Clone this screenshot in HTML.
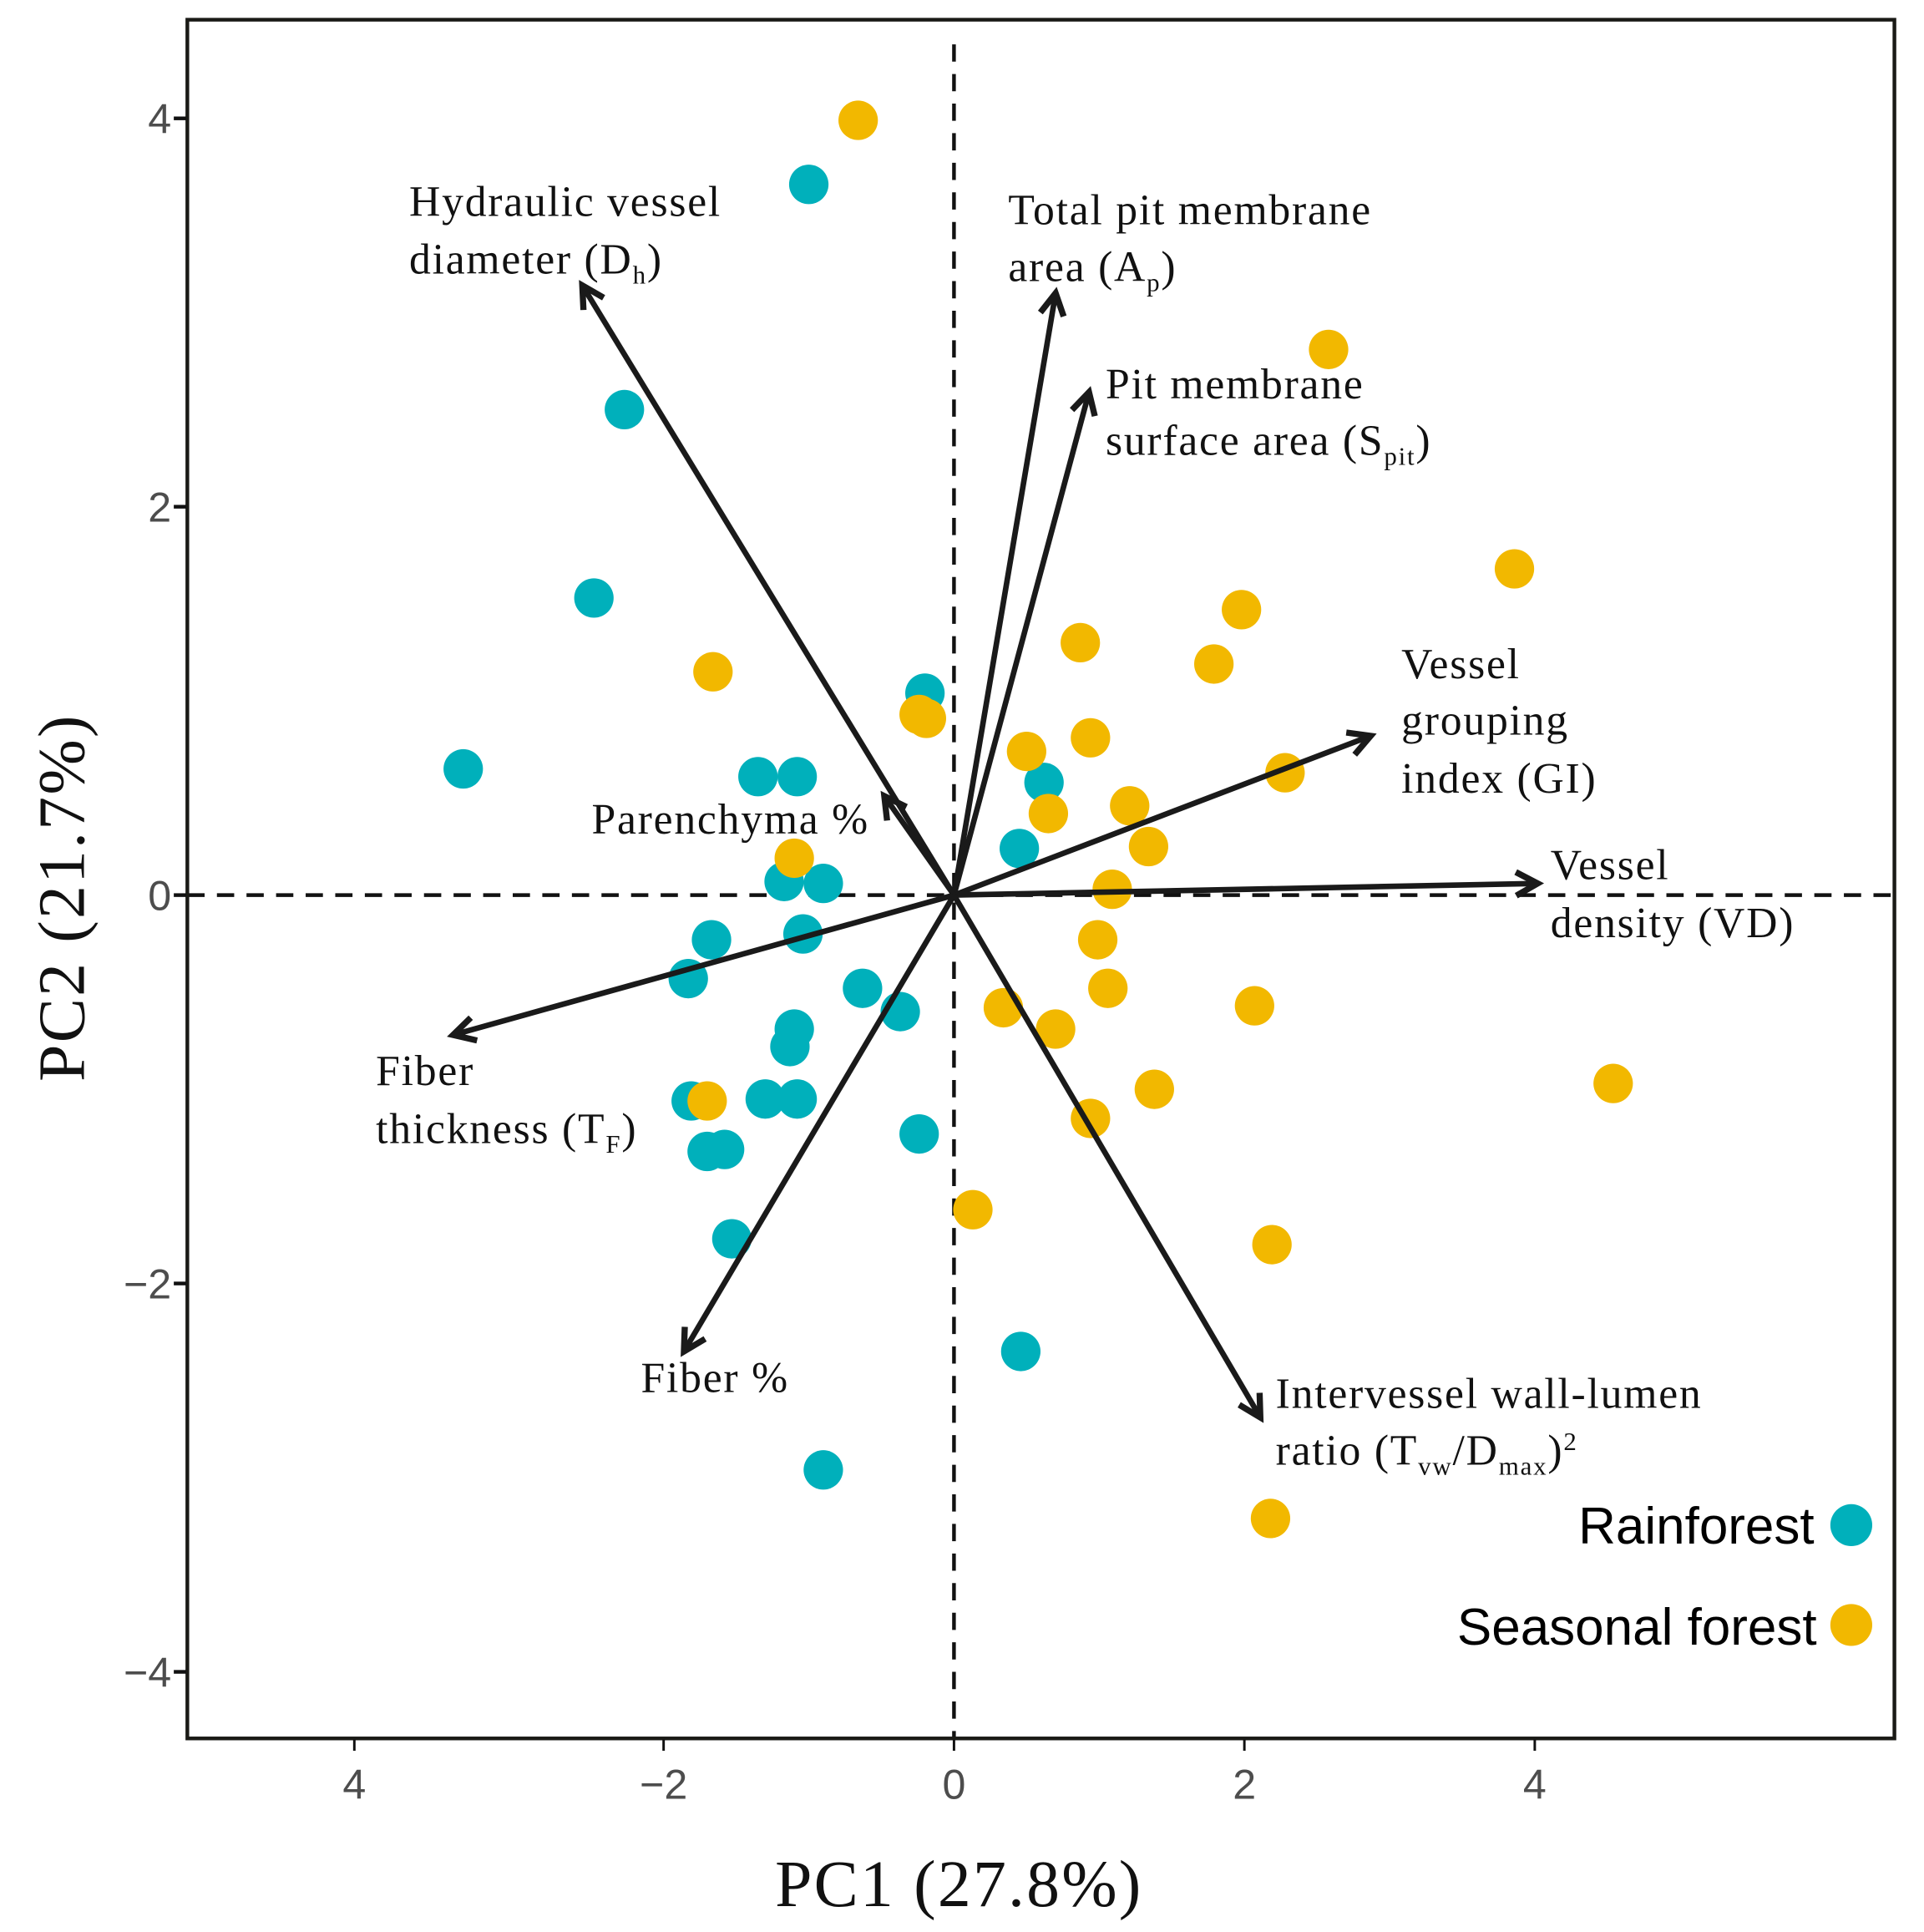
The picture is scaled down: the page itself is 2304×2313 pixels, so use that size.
<!DOCTYPE html>
<html><head><meta charset="utf-8"><style>
html,body{margin:0;padding:0;background:#fff;}
svg{display:block;}
.ser{font-family:"Liberation Serif",serif;fill:#111;}
.tick{font-family:"Liberation Sans",sans-serif;fill:#4d4d4d;font-size:34px;}
</style></head><body>
<svg id="chart" width="2304" height="2313" viewBox="0 0 1561 1567" preserveAspectRatio="none" xmlns="http://www.w3.org/2000/svg">
<rect x="0" y="0" width="1561" height="1567" fill="#fff"/>
<g id="marks"></g>
<g id="arrows"></g>
<g id="labels" class="ser" font-size="35" letter-spacing="1.2">
<text x="332" y="175">Hydraulic vessel</text>
<text x="332" y="222">diameter (D<tspan font-size="21" dy="8">h</tspan><tspan dy="-8">)</tspan></text>
<text x="818" y="182">Total pit membrane</text>
<text x="818" y="228">area (A<tspan font-size="21" dy="8">p</tspan><tspan dy="-8">)</tspan></text>
<text x="897" y="323">Pit membrane</text>
<text x="897" y="369">surface area (S<tspan font-size="21" dy="8">pit</tspan><tspan dy="-8">)</tspan></text>
<text x="1137" y="550">Vessel</text>
<text x="1137" y="596">grouping</text>
<text x="1137" y="643">index (GI)</text>
<text x="1258" y="713">Vessel</text>
<text x="1258" y="760">density (VD)</text>
<text x="480" y="676">Parenchyma %</text>
<text x="305" y="880">Fiber</text>
<text x="305" y="927">thickness (T<tspan font-size="21" dy="8">F</tspan><tspan dy="-8">)</tspan></text>
<text x="520" y="1129">Fiber %</text>
<text x="1035" y="1142">Intervessel wall-lumen</text>
<text x="1035" y="1188">ratio (T<tspan font-size="21" dy="8">vw</tspan><tspan dy="-8">/D</tspan><tspan font-size="21" dy="8">max</tspan><tspan dy="-8">)</tspan><tspan font-size="21" dy="-12">2</tspan></text>
</g>
<g id="legend" font-family="Liberation Sans, sans-serif" font-size="42" fill="#000">
<text x="1472" y="1252" text-anchor="end">Rainforest</text>
<circle cx="1502" cy="1237" r="17" fill="#00B0BB"/>
<text x="1474" y="1334" text-anchor="end">Seasonal forest</text>
<circle cx="1502" cy="1318" r="17" fill="#F2B800"/>
</g>
<text class="ser" x="778" y="1546" font-size="54" letter-spacing="1.5" text-anchor="middle">PC1 (27.8%)</text>
<text class="ser" x="0" y="0" font-size="54" letter-spacing="1.5" text-anchor="middle" transform="translate(68,728) rotate(-90)">PC2 (21.7%)</text>
<rect x="152" y="16" width="1385" height="1394" fill="none" stroke="#1a1a16" stroke-width="3"/>
<g id="axes"></g>
</svg>
<script>
const xTickVals=[-4.13,-2,0,2,4];
const xTickLabels=["4","\u22122","0","2","4"];
const yTickVals=[4,2,0,-2,-4];
const yTickLabels=["4","2","0","\u22122","\u22124"];
const rainX=[-1.00,-2.27,-2.48,-3.38,-0.20,-1.35,-1.08,0.62,0.45,-1.17,-0.90,-1.04,-1.67,-1.83,-0.63,-0.37,-1.10,-1.13,-1.81,-1.30,-1.08,-1.70,-1.58,-0.24,-1.53,0.46,-0.90];
const rainY=[3.66,2.50,1.53,0.65,1.04,0.61,0.61,0.58,0.24,0.07,0.06,-0.20,-0.23,-0.43,-0.48,-0.60,-0.69,-0.78,-1.06,-1.05,-1.05,-1.32,-1.31,-1.23,-1.77,-2.35,-2.96];
const seasX=[-0.66,2.58,3.86,1.98,0.87,1.79,-1.66,-0.24,-0.19,0.50,0.94,2.28,0.65,1.21,1.34,-1.10,1.09,0.99,2.07,0.34,0.70,1.06,1.38,0.94,-1.70,0.13,2.19,4.54,2.18];
const seasY=[3.99,2.81,1.68,1.47,1.30,1.19,1.15,0.93,0.91,0.74,0.81,0.63,0.42,0.46,0.25,0.19,0.03,-0.23,-0.57,-0.58,-0.69,-0.48,-1.00,-1.15,-1.06,-1.62,-1.80,-0.97,-3.21];
const arrowNames=["dh","ap","spit","gi","vd","parenchyma","tf","fiber","twv"];
const arrowX=[-2.56,0.70,0.93,2.87,4.02,-0.48,-3.45,-1.86,2.11];
const arrowY=[3.14,3.10,2.59,0.82,0.06,0.51,-0.72,-2.35,-2.69];

const NS="http://www.w3.org/2000/svg";
const sx=v=>774+v*117.8;
const sy=v=>726-v*157.5;
function mk(tag,attrs,parent){const e=document.createElementNS(NS,tag);for(const k in attrs)e.setAttribute(k,attrs[k]);parent.appendChild(e);return e;}
const axes=document.getElementById('axes');
const marks=document.getElementById('marks');
const arrows=document.getElementById('arrows');

let h=mk('line',{x1:152,x2:1537,y1:sy(0),y2:sy(0),stroke:'#111','stroke-width':3,'stroke-dasharray':'14 10'},marks);


let v=mk('line',{x1:sx(0),x2:sx(0),y1:36,y2:1410,stroke:'#111','stroke-width':3,'stroke-dasharray':'14 10'},marks);



xTickVals.forEach((t,i)=>{
  const x=sx(t);
  const l=mk('line',{x1:x,x2:x,y1:1411,y2:1420,stroke:'#111','stroke-width':2},axes);
  
  
  const tx=mk('text',{x:x,y:1459,'text-anchor':'middle','class':'tick'},axes);
  tx.textContent=xTickLabels[i];
  
  
});
yTickVals.forEach((t,i)=>{
  const y=sy(t);
  const l=mk('line',{x1:141,x2:151,y1:y,y2:y,stroke:'#111','stroke-width':3},axes);
  
  
  const tx=mk('text',{x:139,y:y+12,'text-anchor':'end','class':'tick'},axes);
  tx.textContent=yTickLabels[i];
  
  
});

rainX.forEach((x,i)=>{
  const c=mk('circle',{cx:sx(x),cy:sy(rainY[i]),r:16,fill:'#00B0BB'},marks);
  
  
});
seasX.forEach((x,i)=>{
  const c=mk('circle',{cx:sx(x),cy:sy(seasY[i]),r:16,fill:'#F2B800'},marks);
  
  
});

arrowX.forEach((x,i)=>{
  const x0=sx(0),y0=sy(0),x1=sx(x),y1=sy(arrowY[i]);
  const g=mk('g',{},arrows);
  
  
  mk('line',{x1:x0,y1:y0,x2:x1,y2:y1,stroke:'#1a1a1a','stroke-width':4.5},g);
  const ang=Math.atan2(y1-y0,x1-x0),L=20,a=0.5;
  const p1=[x1-L*Math.cos(ang-a),y1-L*Math.sin(ang-a)];
  const p2=[x1-L*Math.cos(ang+a),y1-L*Math.sin(ang+a)];
  mk('polyline',{points:`${p1[0]},${p1[1]} ${x1},${y1} ${p2[0]},${p2[1]}`,fill:'none',stroke:'#1a1a1a','stroke-width':5},g);
});
</script>
</body></html>
